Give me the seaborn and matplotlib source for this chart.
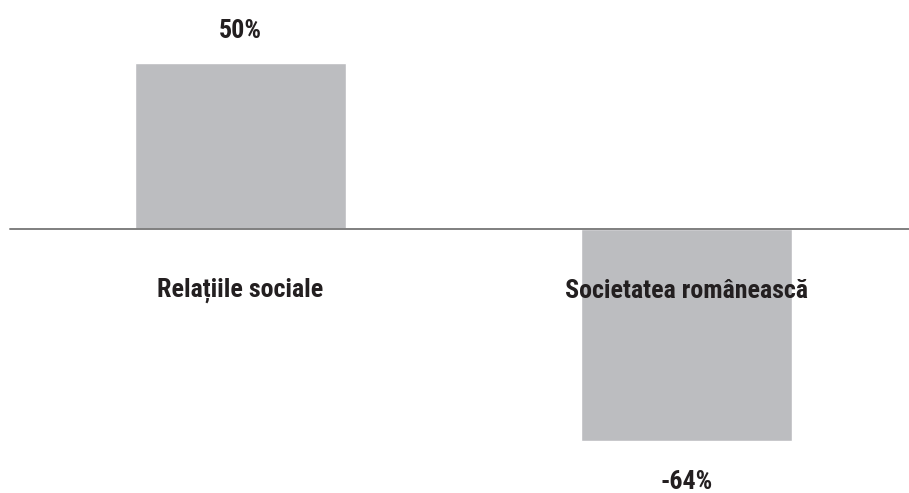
import matplotlib
matplotlib.use("Agg")
import matplotlib.pyplot as plt
import seaborn as sns
import pandas as pd

categories = ["Relațiile sociale", "Societatea românească"]
values = [50, -64]
value_labels = ["50%", "-64%"]

sns.set_style("white")
plt.rcParams['font.family'] = ['Liberation Sans Narrow', 'Roboto Condensed', 'DejaVu Sans']

df = pd.DataFrame({"categorie": categories, "valoare": values})

fig = plt.figure(figsize=(9.09, 4.93), dpi=100)
ax = fig.add_axes([0, 0, 1, 1])

sns.barplot(data=df, x="categorie", y="valoare", color="#bcbdc0", saturation=1,
            width=0.473, ax=ax, zorder=1)

ax.set_xlim(-0.539, 1.499)
ax.set_ylim(-79.6, 69.1)

# zero line
ax.plot([-0.517, 1.499], [0, 0], color="#7f7f7f", lw=1.4, zorder=2)

text_color = "#231f20"
for i, (cat, v, lab) in enumerate(zip(categories, values, value_labels)):
    ax.text(i, -18.6, cat, ha="center", va="center", fontsize=18.7,
            fontweight="bold", color=text_color, zorder=3)
    off = 9.8 if v > 0 else -12.4
    ax.text(i, v + off, lab, ha="center", va="center", fontsize=18.7,
            fontweight="bold", color=text_color, zorder=3)

ax.axis("off")
fig.savefig("out.png", dpi=100)
